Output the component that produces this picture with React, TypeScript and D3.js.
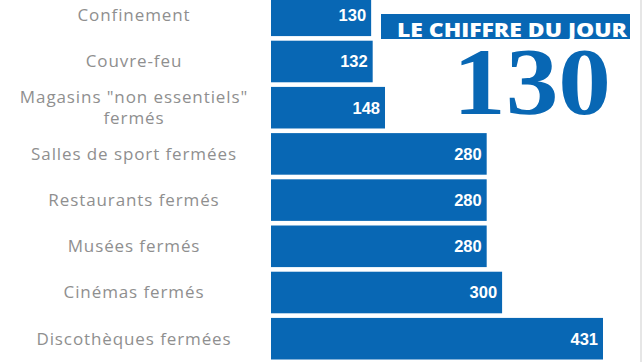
import * as d3 from "d3"

const categories = [
    "Confinement",
    "Couvre-feu",
    "Magasins \"non essentiels\"\nfermés",
    "Salles de sport fermées",
    "Restaurants fermés",
    "Musées fermés",
    "Cinémas fermés",
    "Discothèques fermées",
]
const values = [130, 132, 148, 280, 280, 280, 300, 431]

const headline = "LE CHIFFRE DU JOUR"
const bigNumber = "130"

const W = 644
const H = 364
const BLUE = "#0867b4"

export default function App() {
    const x = d3.scaleLinear().domain([0, d3.max(values) ?? 1]).range([271, 603])
    const y = d3.scaleBand<string>()
        .domain(categories)
        .range([-5.5, 359.5])
        .paddingInner(0.1)
        .paddingOuter(0)
    const bw = y.bandwidth()

    return (
        <svg
            width={W}
            height={H}
            style={{ position: "absolute", left: 0, top: 0, background: "#fff" }}
        >
            <rect x={0} y={0} width={W} height={H} fill="#fff" />
            <rect x={640} y={0} width={2} height={362} fill="#e6e6e6" />

            {categories.map((c, i) => {
                const y0 = y(c) ?? 0
                const cy = y0 + bw / 2
                const lines = c.split("\n")
                const lh = 21
                return (
                    <g key={c}>
                        <rect x={x(0)} y={y0} width={x(values[i]) - x(0)} height={bw} fill={BLUE} />
                        <text
                            x={x(values[i]) - 5}
                            y={cy}
                            dy="0.36em"
                            textAnchor="end"
                            fill="#fff"
                            fontFamily="'Liberation Sans', Arial, sans-serif"
                            fontWeight={700}
                            fontSize={16.5}
                        >
                            {values[i]}
                        </text>
                        <text
                            x={134}
                            textAnchor="middle"
                            fill="#8f8f8f"
                            fontFamily="'Open Sans', sans-serif"
                            fontSize={17}
                            letterSpacing={0.9}
                        >
                            {lines.map((l, k) => (
                                <tspan key={k} x={134} y={cy + (k - (lines.length - 1) / 2) * lh} dy="0.35em">
                                    {l}
                                </tspan>
                            ))}
                        </text>
                    </g>
                )
            })}

            <rect x={381} y={14} width={249} height={25} fill={BLUE} />
            <text
                x={397}
                y={37}
                fill="#fff"
                fontFamily="'Open Sans', sans-serif"
                fontWeight={800}
                fontSize={20}
                textLength={230}
                lengthAdjust="spacingAndGlyphs"
            >
                {headline}
            </text>
            <text
                x={453}
                y={114}
                fill={BLUE}
                fontFamily="'Liberation Serif', serif"
                fontWeight={700}
                fontSize={96}
                textLength={158}
                lengthAdjust="spacingAndGlyphs"
            >
                {bigNumber}
            </text>
        </svg>
    )
}
